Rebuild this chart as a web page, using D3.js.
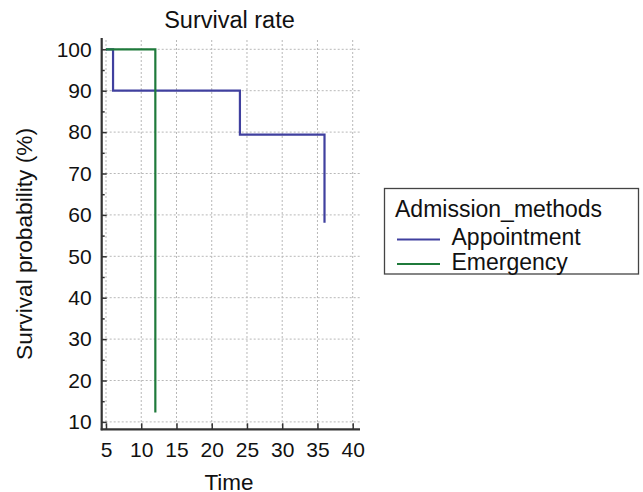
<!DOCTYPE html>
<html>
<head>
<meta charset="utf-8">
<script src="https://cdn.jsdelivr.net/npm/d3@7"></script>
<style>
  html, body { margin: 0; padding: 0; background: #fff; }
  svg { display: block; }
  text { font-family: "Liberation Sans", Arial, sans-serif; fill: #111; }
</style>
</head>
<body>
<div id="chart"></div>
<script>
// Kaplan–Meier estimates by admission method (time, survival %)
const seriesNames = ["Appointment", "Emergency"];
const appointmentTime = [5, 6, 24, 36];
const appointmentSurv = [100, 90, 79.4, 58.1];
const emergencyTime = [5, 12];
const emergencySurv = [100, 12.3];
const xTicks = [5, 10, 15, 20, 25, 30, 35, 40];
const yTicks = [10, 20, 30, 40, 50, 60, 70, 80, 90, 100];
const yMinorTicks = [15, 25, 35, 45, 55, 65, 75, 85, 95];
const colors = ["#40409f", "#1f7a3b"];

const W = 643, H = 492;
const svg = d3.select("#chart").append("svg").attr("width", W).attr("height", H);

// plot frame in pixels
const frame = { left: 101.7, right: 360, top: 40, bottom: 429.3 };

const x = d3.scaleLinear().domain([5, 40]).range([106, 352.7]);
const y = d3.scaleLinear().domain([10, 100]).range([421.9, 49.3]);

// dotted grid
const grid = svg.append("g").attr("stroke", "#b8b8b8").attr("stroke-width", 1)
  .attr("stroke-dasharray", "2,2");
grid.selectAll("line.gx").data(xTicks).join("line").attr("class", "gx")
  .attr("x1", d => x(d)).attr("x2", d => x(d)).attr("y1", frame.top).attr("y2", frame.bottom);
grid.selectAll("line.gy").data(yTicks).join("line").attr("class", "gy")
  .attr("x1", frame.left).attr("x2", frame.right).attr("y1", d => y(d)).attr("y2", d => y(d));

// axes (ticks point inward)
const tickFont = 21;
const yAxis = svg.append("g").attr("transform", `translate(${frame.left},0)`)
  .call(d3.axisLeft(y).tickValues(yTicks).tickSize(-5).tickPadding(10));
const yMinor = svg.append("g").attr("transform", `translate(${frame.left},0)`)
  .call(d3.axisLeft(y).tickValues(yMinorTicks).tickSize(-3).tickFormat(""));
const xAxis = svg.append("g").attr("transform", `translate(0,${frame.bottom})`)
  .call(d3.axisBottom(x).tickValues(xTicks).tickSize(-6).tickPadding(13));
[yAxis, yMinor, xAxis].forEach(g => {
  g.select(".domain").remove();
  g.selectAll(".tick line").attr("stroke", "#333").attr("stroke-width", 1.5);
  g.selectAll(".tick text").attr("font-size", tickFont).attr("fill", "#111")
    .attr("font-family", "Liberation Sans, Arial, sans-serif");
});

svg.append("line").attr("x1", frame.left).attr("x2", frame.left).attr("y1", 38).attr("y2", frame.bottom + 1)
  .attr("stroke", "#333").attr("stroke-width", 2.2);
svg.append("line").attr("x1", frame.left - 1).attr("x2", frame.right).attr("y1", frame.bottom).attr("y2", frame.bottom)
  .attr("stroke", "#333").attr("stroke-width", 2.2);

// survival step curves
const line = d3.line().x(d => x(d[0])).y(d => y(d[1])).curve(d3.curveStepAfter);
const series = [
  d3.zip(appointmentTime, appointmentSurv),
  d3.zip(emergencyTime, emergencySurv)
];
svg.append("g").selectAll("path").data(series).join("path")
  .attr("d", line).attr("fill", "none")
  .attr("stroke", (d, i) => colors[i]).attr("stroke-width", 2.2);

// titles
svg.append("text").attr("x", 229.5).attr("y", 28.3).attr("text-anchor", "middle")
  .attr("font-size", 23.5).text("Survival rate");
svg.append("text").attr("x", 229).attr("y", 489.5).attr("text-anchor", "middle")
  .attr("font-size", 22.5).text("Time");
svg.append("text").attr("transform", "translate(32,244) rotate(-90)")
  .attr("text-anchor", "middle").attr("font-size", 22.7).text("Survival probability (%)");

// legend
const lg = svg.append("g");
lg.append("rect").attr("x", 384.5).attr("y", 188.5).attr("width", 254).attr("height", 85.5)
  .attr("fill", "#fff").attr("stroke", "#444").attr("stroke-width", 1.3);
lg.append("text").attr("x", 395).attr("y", 217).attr("font-size", 23).text("Admission_methods");
seriesNames.forEach((name, i) => {
  const cy = 239.5 + i * 24.5;
  lg.append("line").attr("x1", 397).attr("x2", 440).attr("y1", cy).attr("y2", cy)
    .attr("stroke", colors[i]).attr("stroke-width", 2);
  lg.append("text").attr("x", 451.5).attr("y", cy + 5.6).attr("font-size", 23).text(name);
});
</script>
</body>
</html>
